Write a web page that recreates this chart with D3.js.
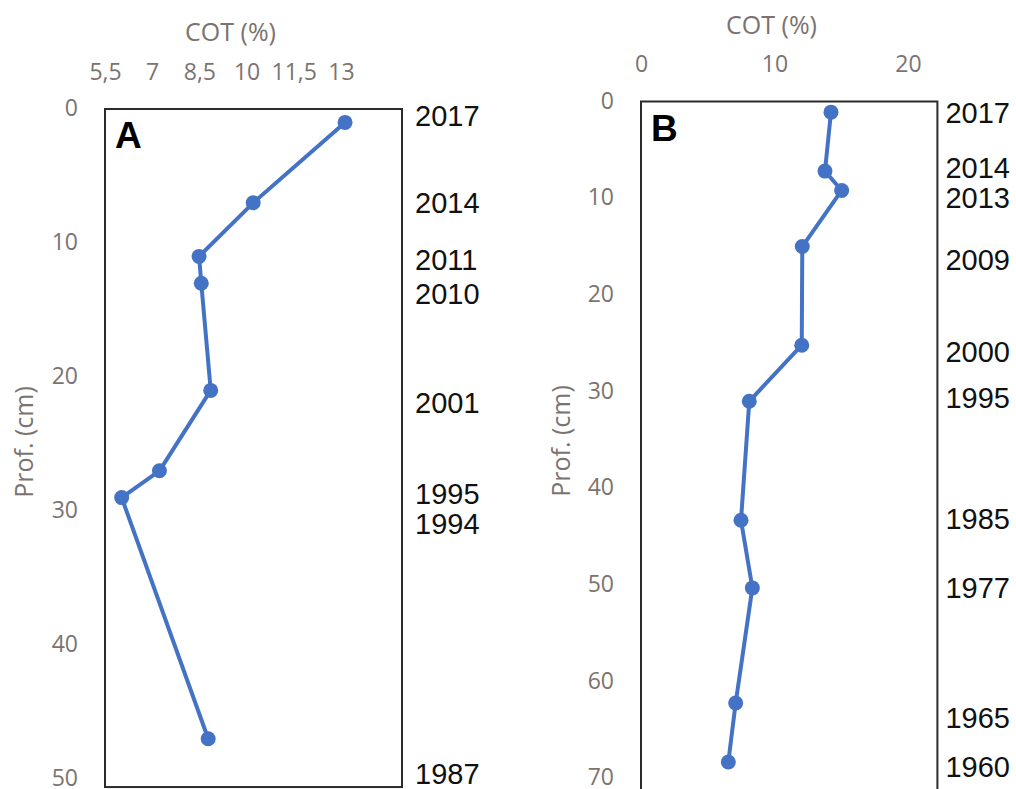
<!DOCTYPE html>
<html>
<head>
<meta charset="utf-8">
<script src="https://cdn.jsdelivr.net/npm/d3@7"></script>
<style>
  body { margin: 0; background: #fff; }
  .tick-lbl { font-family: "Open Sans", sans-serif; font-size: 23px; fill: #7b7370; }
  .axis-title { font-family: "Open Sans", sans-serif; font-size: 25px; fill: #7b7370; }
  .year { font-family: "Liberation Sans", Arial, sans-serif; font-size: 29px; fill: #111; }
  .panel { font-family: "Liberation Sans", Arial, sans-serif; font-size: 37px; font-weight: bold; fill: #000; }
</style>
</head>
<body>
<svg id="chart" width="1016" height="789"></svg>
<script>
// ---- Core A: organic carbon (COT, %) by depth (cm)
const depthA = [1, 7, 11, 13, 21, 27, 29, 47];
const cotA = [13.13, 10.21, 8.49, 8.56, 8.86, 7.23, 6.03, 8.78];
const yearsA = ["2017", "2014", "2011", "2010", "2001", "1995", "1994", "1987"];
const yearDepthA = [0.5, 7.0, 11.2, 13.8, 21.9, 28.7, 30.9, 49.6];
const xTicksA = [5.5, 7, 8.5, 10, 11.5, 13];
const yTicksA = [0, 10, 20, 30, 40, 50];

// ---- Core B
const depthB = [1.1, 7.2, 9.2, 15, 25.2, 31, 43.3, 50.3, 62.2, 68.3];
const cotB = [14.23, 13.78, 15.03, 12.08, 12.04, 8.11, 7.49, 8.34, 7.09, 6.54];
const yearsB = ["2017", "2014", "2013", "2009", "2000", "1995", "1985", "1977", "1965", "1960"];
const yearDepthB = [1.1, 6.8, 9.9, 16.3, 25.9, 30.6, 43.1, 50.3, 63.7, 68.8];
const xTicksB = [0, 10, 20];
const yTicksB = [0, 10, 20, 30, 40, 50, 60, 70];

const BLUE = "#4472C4";
const svg = d3.select("#chart");
svg.append("rect").attr("width", 1016).attr("height", 789).attr("fill", "#fff");

const comma = d3.formatLocale({ decimal: ",", thousands: ".", grouping: [3], currency: ["", ""] }).format("~g");

function panel(cfg) {
  const x = d3.scaleLinear().domain(cfg.xDomain).range(cfg.xRange);
  const y = d3.scaleLinear().domain(cfg.yDomain).range(cfg.yRange);
  const g = svg.append("g");

  // top COT axis
  const xa = g.append("g")
    .attr("transform", `translate(0,${cfg.xAxisY})`)
    .call(d3.axisTop(x).tickValues(cfg.xTicks).tickSize(0).tickPadding(0).tickFormat(comma));
  xa.select(".domain").remove();
  xa.selectAll("text").attr("class", "tick-lbl").attr("y", 0).attr("dy", "0.35em")
    .attr("fill", null).attr("font-size", null).attr("font-family", null);
  xa.attr("font-size", null).attr("font-family", null);

  // left depth axis
  const ya = g.append("g")
    .attr("transform", `translate(${cfg.yAxisX},${cfg.labelShift})`)
    .call(d3.axisLeft(y).tickValues(cfg.yTicks).tickSize(0).tickPadding(0));
  ya.select(".domain").remove();
  ya.selectAll("text").attr("class", "tick-lbl").attr("x", 0).attr("dy", "0.35em")
    .attr("fill", null);
  ya.attr("font-size", null).attr("font-family", null);

  // axis titles
  g.append("text").attr("class", "axis-title")
    .attr("x", cfg.xTitle[0]).attr("y", cfg.xTitle[1])
    .attr("text-anchor", "middle").attr("dy", "0.35em").text("COT (%)");
  g.append("text").attr("class", "axis-title")
    .attr("transform", `translate(${cfg.yTitle[0]},${cfg.yTitle[1]}) rotate(-90)`)
    .attr("text-anchor", "middle").attr("dy", "0.35em").text("Prof. (cm)");

  // plot frame
  const x0 = x(cfg.xDomain[0]), x1 = x(cfg.xDomain[1]);
  const y0 = y(cfg.boxDepth[0]), y1 = y(cfg.boxDepth[1]);
  g.append("rect").attr("x", x0).attr("y", y0)
    .attr("width", x1 - x0).attr("height", y1 - y0)
    .attr("fill", "none").attr("stroke", "#2b2b2b").attr("stroke-width", 2);

  // panel letter
  g.append("text").attr("class", "panel")
    .attr("x", x0 + 10).attr("y", y0 + 39).text(cfg.letter);

  // profile line and markers
  const pts = cfg.depth.map((d, i) => [cfg.cot[i], d]);
  const line = d3.line().x(p => x(p[0])).y(p => y(p[1]));
  g.append("path").datum(pts).attr("d", line)
    .attr("fill", "none").attr("stroke", BLUE).attr("stroke-width", 4)
    .attr("stroke-linejoin", "round");
  g.selectAll("circle.pt").data(pts).join("circle").attr("class", "pt")
    .attr("cx", p => x(p[0])).attr("cy", p => y(p[1])).attr("r", 7.5)
    .attr("fill", BLUE);

  // dating labels on the right
  g.selectAll("text.year").data(cfg.years).join("text").attr("class", "year")
    .attr("x", x1 + cfg.yearGap).attr("y", (d, i) => y(cfg.yearDepth[i]))
    .attr("dy", "0.36em").text(d => d);
}

panel({
  letter: "A",
  depth: depthA, cot: cotA, years: yearsA, yearDepth: yearDepthA,
  xTicks: xTicksA, yTicks: yTicksA,
  xDomain: [5.5, 14.94], xRange: [105, 402],
  yDomain: [0, 50], yRange: [109, 779],
  boxDepth: [0, 50.6],
  xAxisY: 72, yAxisX: 78, labelShift: -1.5,
  xTitle: [230.5, 32], yTitle: [24, 442],
  yearGap: 13
});

panel({
  letter: "B",
  depth: depthB, cot: cotB, years: yearsB, yearDepth: yearDepthB,
  xTicks: xTicksB, yTicks: yTicksB,
  xDomain: [0, 22.2], xRange: [641, 937.4],
  yDomain: [0, 70], yRange: [101.5, 778.4],
  boxDepth: [0, 72],
  xAxisY: 64, yAxisX: 614, labelShift: -1.5,
  xTitle: [771.5, 25], yTitle: [561, 441],
  yearGap: 8
});
</script>
</body>
</html>
